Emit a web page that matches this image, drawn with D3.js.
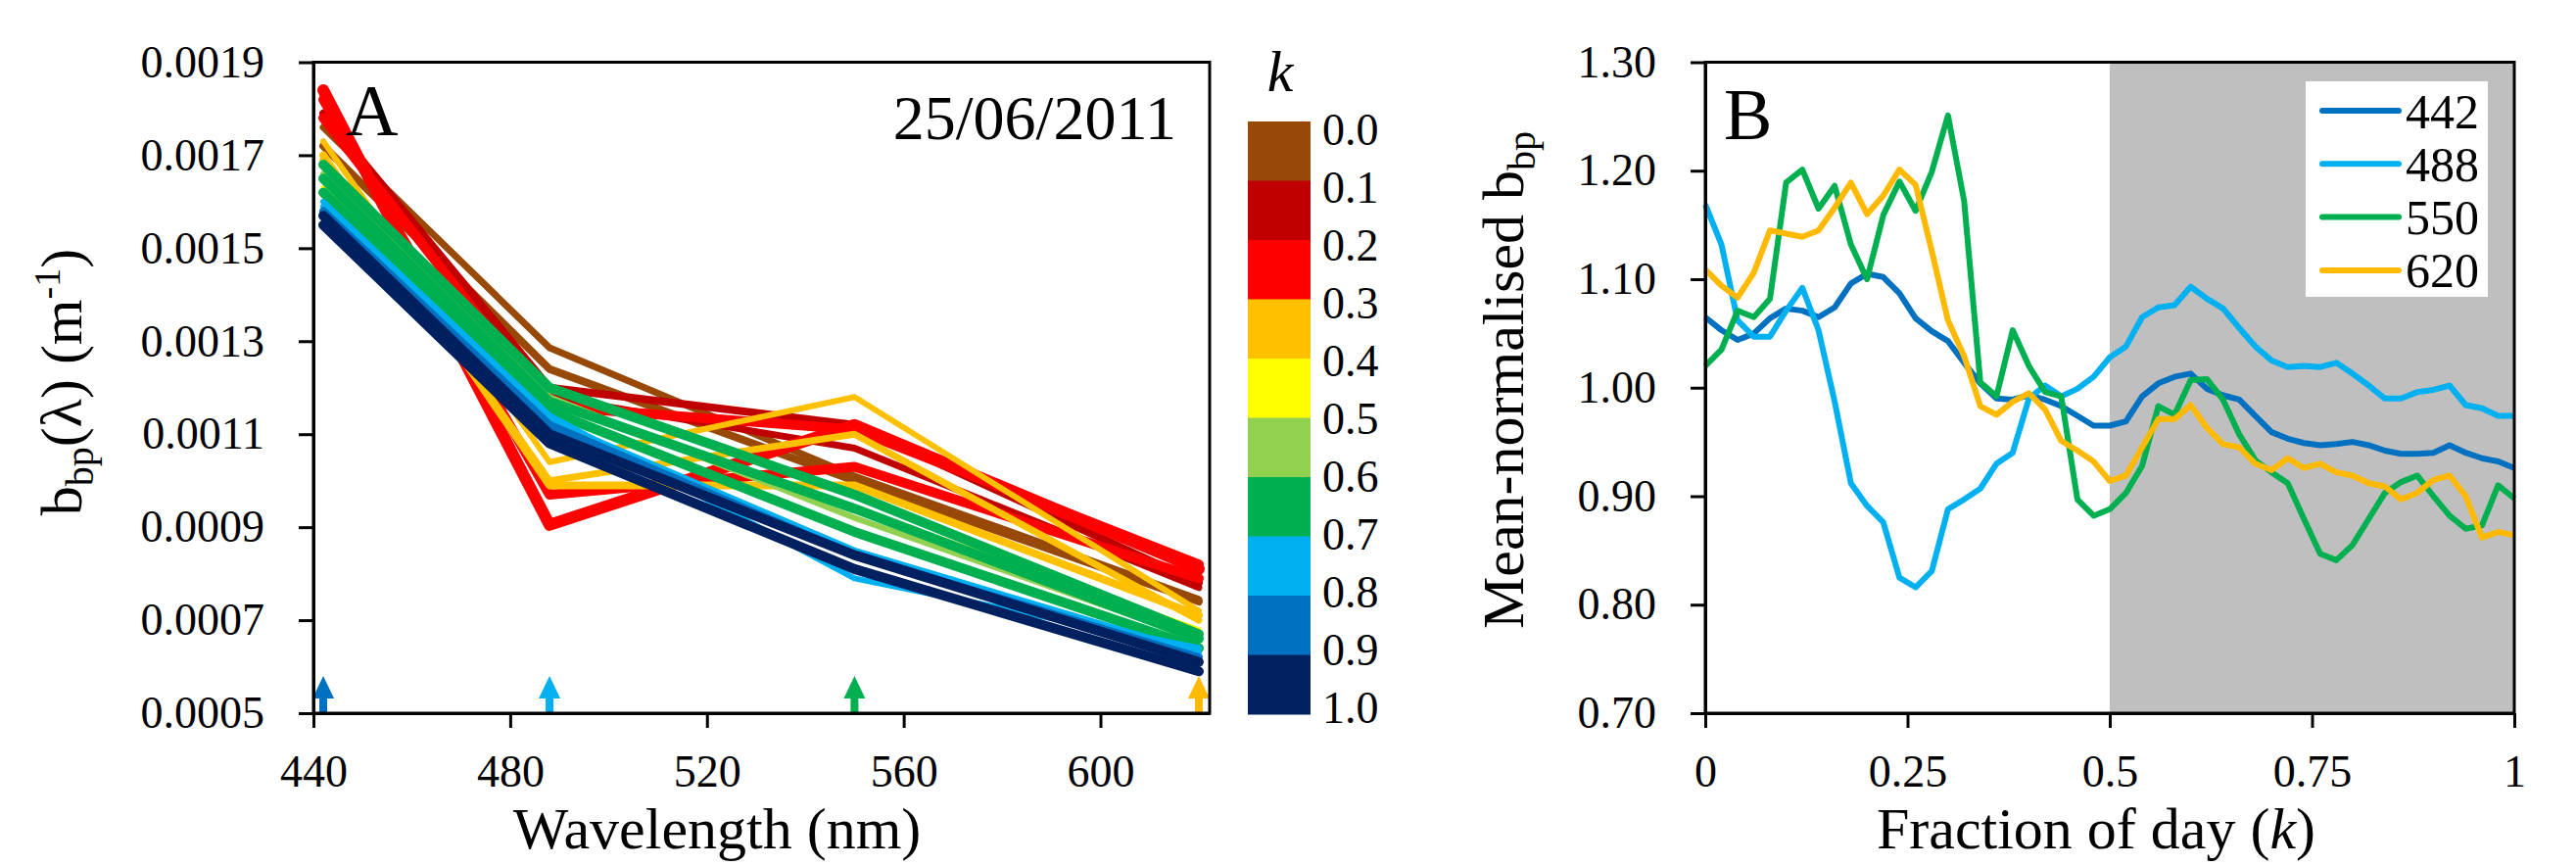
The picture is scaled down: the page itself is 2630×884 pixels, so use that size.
<!DOCTYPE html>
<html>
<head>
<meta charset="utf-8">
<script src="https://cdn.jsdelivr.net/npm/d3@7"></script>
<style>
    body { margin: 0; background: #fff; }
    svg text { font-family: "Liberation Serif", "Times New Roman", serif; fill: #000; }
</style>
</head>
<body>
<div id="chart"></div>
<script>
// ---------------------------------------------------------------------------- //
//                                     Data                                      //
// ---------------------------------------------------------------------------- //

// Panel A : spectra, one per time step, coloured by class of k
var wavelengths = [442, 488, 550, 620];
var wavelengthTicks = [440, 480, 520, 560, 600];
var bbpTicks = [0.0005, 0.0007, 0.0009, 0.0011, 0.0013, 0.0015, 0.0017, 0.0019];
var kClassLabels = ['0.0', '0.1', '0.2', '0.3', '0.4', '0.5', '0.6', '0.7', '0.8', '0.9', '1.0'];

var spectraClass = [0, 0, 1, 1, 2, 2, 2, 3, 3, 3, 4, 5, 6, 6, 6, 7, 7, 8, 9, 9];
var spectraBbp = [
    [0.00176, 0.001286, 0.00101, 0.000745],
    [0.00172, 0.00124, 0.00100, 0.00074],
    [0.00179, 0.00120, 0.00112, 0.00078],
    [0.00178, 0.00118, 0.00107, 0.00077],
    [0.00184, 0.000905, 0.00112, 0.00081],
    [0.00182, 0.00097, 0.00103, 0.00079],
    [0.00178, 0.00116, 0.00111, 0.00082],
    [0.00173, 0.00104, 0.00118, 0.00072],
    [0.00169, 0.00100, 0.00110, 0.00070],
    [0.00170, 0.00099, 0.00099, 0.00071],
    [0.00163, 0.00117, 0.00094, 0.00068],
    [0.00166, 0.00118, 0.00092, 0.00066],
    [0.00168, 0.00120, 0.00097, 0.00067],
    [0.00165, 0.00117, 0.00094, 0.00066],
    [0.00162, 0.00115, 0.00089, 0.00064],
    [0.00160, 0.00114, 0.00079, 0.00064],
    [0.00159, 0.00113, 0.00085, 0.00063],
    [0.00158, 0.00112, 0.00084, 0.00062],
    [0.00157, 0.00110, 0.00084, 0.00061],
    [0.00155, 0.00108, 0.00081, 0.00059]
];

// Panel B : mean-normalised bbp over the day
var fractionOfDay = [0.00, 0.02, 0.04, 0.06, 0.08, 0.10, 0.12, 0.14, 0.16, 0.18,
                     0.20, 0.22, 0.24, 0.26, 0.28, 0.30, 0.32, 0.34, 0.36, 0.38,
                     0.40, 0.42, 0.44, 0.46, 0.48, 0.50, 0.52, 0.54, 0.56, 0.58,
                     0.60, 0.62, 0.64, 0.66, 0.68, 0.70, 0.72, 0.74, 0.76, 0.78,
                     0.80, 0.82, 0.84, 0.86, 0.88, 0.90, 0.92, 0.94, 0.96, 0.98, 1.00];
var norm442 = [1.065, 1.053, 1.044, 1.050, 1.064, 1.073, 1.071, 1.065, 1.074, 1.096,
               1.105, 1.102, 1.087, 1.064, 1.052, 1.043, 1.023, 1.004, 0.990, 0.989,
               0.993, 0.989, 0.983, 0.974, 0.965, 0.965, 0.969, 0.992, 1.004, 1.010,
               1.013, 0.999, 0.993, 0.989, 0.974, 0.959, 0.953, 0.949, 0.947, 0.948,
               0.950, 0.947, 0.942, 0.939, 0.939, 0.940, 0.947, 0.940, 0.935, 0.932, 0.926];
var norm488 = [1.169, 1.132, 1.062, 1.047, 1.047, 1.071, 1.092, 1.053, 0.987, 0.912,
               0.891, 0.876, 0.825, 0.816, 0.831, 0.888, 0.897, 0.907, 0.930, 0.940,
               0.990, 1.002, 0.992, 0.999, 1.010, 1.028, 1.038, 1.065, 1.074, 1.076,
               1.093, 1.082, 1.073, 1.055, 1.038, 1.025, 1.019, 1.020, 1.019, 1.023,
               1.013, 1.002, 0.990, 0.990, 0.996, 0.998, 1.002, 0.984, 0.981, 0.974, 0.974];
var norm550 = [1.020, 1.035, 1.071, 1.065, 1.082, 1.189, 1.201, 1.165, 1.186, 1.132,
               1.100, 1.159, 1.190, 1.163, 1.199, 1.251, 1.172, 1.005, 0.992, 1.053,
               1.020, 0.996, 0.992, 0.897, 0.882, 0.888, 0.903, 0.928, 0.983, 0.975,
               1.007, 1.008, 0.989, 0.957, 0.933, 0.922, 0.912, 0.879, 0.847, 0.841,
               0.855, 0.879, 0.903, 0.913, 0.919, 0.900, 0.882, 0.870, 0.873, 0.910, 0.898];
var norm620 = [1.109, 1.094, 1.083, 1.106, 1.145, 1.142, 1.139, 1.145, 1.166, 1.189,
               1.160, 1.177, 1.201, 1.187, 1.126, 1.062, 1.029, 0.983, 0.975, 0.987,
               0.995, 0.980, 0.951, 0.942, 0.932, 0.914, 0.919, 0.945, 0.971, 0.971,
               0.984, 0.963, 0.948, 0.945, 0.930, 0.924, 0.935, 0.926, 0.930, 0.922,
               0.919, 0.912, 0.909, 0.897, 0.903, 0.915, 0.919, 0.900, 0.862, 0.867, 0.864];
var bandNames = ['442', '488', '550', '620'];
var fractionTicks = [0, 0.25, 0.5, 0.75, 1];
var normTicks = [0.7, 0.8, 0.9, 1.0, 1.1, 1.2, 1.3];
var nightStart = 0.5;

// ---------------------------------------------------------------------------- //
//                                    Styles                                     //
// ---------------------------------------------------------------------------- //
var FONT = '"Liberation Serif", "Times New Roman", serif';
var CLASS_COLORS = ['#984807', '#C00000', '#FF0000', '#FFC000', '#FFFF00',
                    '#92D050', '#00B050', '#00B0F0', '#0070C0', '#002060'];
var SPECTRA_WIDTH = [7, 8, 8, 7, 12, 10, 10, 6, 7, 8, 5, 6, 10, 10, 10, 6, 6, 8, 10, 10];
var BAND_COLORS = ['#0070C0', '#00B0F0', '#00B050', '#FFB900'];
var AXIS_W = 3;
var TICK_FONT = 46;
var TITLE_FONT = 60;

var svg = d3.select('#chart').append('svg')
    .attr('width', 2630).attr('height', 884)
    .attr('font-family', FONT)
    .style('display', 'block');

svg.append('rect').attr('width', 2630).attr('height', 884).attr('fill', '#fff');

function styleAxis(g){
    g.attr('font-size', null).attr('font-family', FONT);
    g.selectAll('path, line').attr('stroke', '#000').attr('stroke-width', AXIS_W);
    g.selectAll('text').attr('font-size', TICK_FONT).attr('font-family', FONT).attr('fill', '#000');
}

//______________\\
//   Panel A
//______________\\
var xA = d3.scaleLinear().domain([440, 622.2]).range([320, 1235]);
var yA = d3.scaleLinear().domain([0.0005, 0.0019]).range([728, 63.5]);

var gA = svg.append('g');

// spectra
var lineA = d3.line()
    .x(function(d, i){ return xA(wavelengths[i]); })
    .y(function(d){ return yA(d); });

spectraBbp.forEach(function(s, si){
    gA.append('path')
        .attr('d', lineA(s))
        .attr('fill', 'none')
        .attr('stroke', CLASS_COLORS[spectraClass[si]])
        .attr('stroke-width', SPECTRA_WIDTH[si])
        .attr('stroke-linejoin', 'round')
        .attr('stroke-linecap', 'round');
});

// arrows marking the four bands
wavelengths.forEach(function(w, wi){
    var cx = xA(w), by = yA(0.0005);
    var p = d3.path();
    p.moveTo(cx - 4, by);
    p.lineTo(cx - 4, by - 15);
    p.lineTo(cx - 11, by - 15);
    p.lineTo(cx, by - 38);
    p.lineTo(cx + 11, by - 15);
    p.lineTo(cx + 4, by - 15);
    p.lineTo(cx + 4, by);
    p.closePath();
    gA.append('path').attr('d', p.toString()).attr('fill', BAND_COLORS[wi]);
});

// axes
gA.append('g')
    .attr('transform', 'translate(0,' + yA(0.0005) + ')')
    .call(d3.axisBottom(xA).tickValues(wavelengthTicks).tickSize(15).tickSizeOuter(0).tickPadding(27).tickFormat(d3.format('d')))
    .call(styleAxis);

gA.append('g')
    .attr('transform', 'translate(' + xA(440) + ',0)')
    .call(d3.axisLeft(yA).tickValues(bbpTicks).tickSize(15).tickSizeOuter(0).tickPadding(35).tickFormat(d3.format('.4f')))
    .call(styleAxis);

gA.append('rect')
    .attr('x', xA(440)).attr('y', yA(0.0019))
    .attr('width', xA(622.2) - xA(440)).attr('height', yA(0.0005) - yA(0.0019))
    .attr('fill', 'none').attr('stroke', '#000').attr('stroke-width', AXIS_W);

// labels
gA.append('text').attr('x', 353).attr('y', 138).attr('font-size', 74).text('A');
gA.append('text').attr('x', 1201).attr('y', 142).attr('font-size', 64)
    .attr('text-anchor', 'end').text('25/06/2011');

gA.append('text').attr('x', 732).attr('y', 866).attr('font-size', TITLE_FONT)
    .attr('text-anchor', 'middle').text('Wavelength (nm)');

var yTitleA = gA.append('text')
    .attr('transform', 'translate(83,390) rotate(-90)')
    .attr('font-size', TITLE_FONT).attr('text-anchor', 'middle');
yTitleA.append('tspan').text('b');
yTitleA.append('tspan').attr('font-size', 40).attr('dy', 12).text('bp');
yTitleA.append('tspan').attr('dy', -12).text('(λ) (m');
yTitleA.append('tspan').attr('font-size', 38).attr('dy', -22).text('-1');
yTitleA.append('tspan').attr('dy', 22).text(')');

// colour bar for k
var cbBand = d3.scaleBand().domain(d3.range(CLASS_COLORS.length)).range([124, 729]);
var cbLabel = d3.scaleLinear().domain([0, kClassLabels.length - 1]).range([132, 722]);

CLASS_COLORS.forEach(function(c, ci){
    svg.append('rect')
        .attr('x', 1274).attr('y', cbBand(ci))
        .attr('width', 64).attr('height', cbBand.bandwidth() + 0.5)
        .attr('fill', c);
});
kClassLabels.forEach(function(l, li){
    svg.append('text')
        .attr('x', 1350).attr('y', cbLabel(li)).attr('dy', '0.35em')
        .attr('font-size', TICK_FONT).text(l);
});
svg.append('text').attr('x', 1307).attr('y', 93).attr('font-size', 60)
    .attr('font-style', 'italic').attr('text-anchor', 'middle').text('k');

//______________\\
//   Panel B
//______________\\
var xB = d3.scaleLinear().domain([0, 1]).range([1741, 2567]);
var yB = d3.scaleLinear().domain([0.7, 1.3]).range([728, 63.5]);

var gB = svg.append('g');

// night shading
gB.append('rect')
    .attr('x', xB(nightStart)).attr('y', yB(1.3))
    .attr('width', xB(1) - xB(nightStart)).attr('height', yB(0.7) - yB(1.3))
    .attr('fill', '#BFBFBF');

// legend box
var legend = gB.append('g');
legend.append('rect').attr('x', 2354).attr('y', 83).attr('width', 186).attr('height', 220).attr('fill', '#fff');

var series = [norm442, norm488, norm550, norm620];
var lineB = d3.line()
    .x(function(d, i){ return xB(fractionOfDay[i]); })
    .y(function(d){ return yB(d); });

series.forEach(function(s, si){
    gB.append('path')
        .attr('d', lineB(s))
        .attr('fill', 'none')
        .attr('stroke', BAND_COLORS[si])
        .attr('stroke-width', 6)
        .attr('stroke-linejoin', 'round');

    var ly = 113 + si * 54.3;
    legend.append('line')
        .attr('x1', 2371).attr('x2', 2449).attr('y1', ly).attr('y2', ly)
        .attr('stroke', BAND_COLORS[si]).attr('stroke-width', 6).attr('stroke-linecap', 'round');
    legend.append('text')
        .attr('x', 2456).attr('y', ly).attr('dy', '0.35em')
        .attr('font-size', 50).text(bandNames[si]);
});

gB.append('g')
    .attr('transform', 'translate(0,' + yB(0.7) + ')')
    .call(d3.axisBottom(xB).tickValues(fractionTicks).tickSize(15).tickSizeOuter(0).tickPadding(27).tickFormat(d3.format('')))
    .call(styleAxis);

gB.append('g')
    .attr('transform', 'translate(' + xB(0) + ',0)')
    .call(d3.axisLeft(yB).tickValues(normTicks).tickSize(15).tickSizeOuter(0).tickPadding(35).tickFormat(d3.format('.2f')))
    .call(styleAxis);

gB.append('rect')
    .attr('x', xB(0)).attr('y', yB(1.3))
    .attr('width', xB(1) - xB(0)).attr('height', yB(0.7) - yB(1.3))
    .attr('fill', 'none').attr('stroke', '#000').attr('stroke-width', AXIS_W);

gB.append('text').attr('x', 1760).attr('y', 142).attr('font-size', 74).text('B');

var xTitleB = gB.append('text').attr('x', 2140).attr('y', 866)
    .attr('font-size', TITLE_FONT).attr('text-anchor', 'middle');
xTitleB.append('tspan').text('Fraction of day (');
xTitleB.append('tspan').attr('font-style', 'italic').text('k');
xTitleB.append('tspan').text(')');

var yTitleB = gB.append('text')
    .attr('transform', 'translate(1555,388) rotate(-90)')
    .attr('font-size', TITLE_FONT).attr('text-anchor', 'middle');
yTitleB.append('tspan').text('Mean-normalised b');
yTitleB.append('tspan').attr('font-size', 40).attr('dy', 12).text('bp');
</script>
</body>
</html>
